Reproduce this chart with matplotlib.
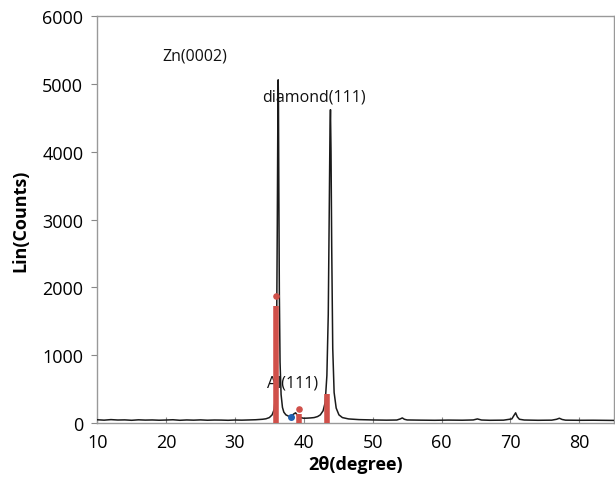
import matplotlib
matplotlib.use("Agg")
import matplotlib.pyplot as plt

plt.rcParams['font.family'] = ['Open Sans', 'DejaVu Sans']

# XRD pattern
two_theta = [10, 11, 12, 13, 14, 15, 16, 17, 18, 19, 20, 21, 22, 23, 24, 25, 26, 27, 28, 29,
             30, 31, 32, 33,
             34, 34.5, 35.0, 35.4, 35.7, 35.9, 36.05, 36.15, 36.22, 36.28, 36.32,
             36.38, 36.45, 36.55, 36.7, 36.9,
             37.1, 37.4, 37.8, 38.2, 38.5, 38.8, 39.1, 39.5,
             40.0, 40.5, 41.0, 41.5, 42.0, 42.4, 42.8, 43.1, 43.35, 43.55, 43.7, 43.8, 43.87,
             43.95, 44.05, 44.2, 44.4, 44.7, 45.1, 45.6, 46.5, 48, 50, 52, 53.5, 54.0, 54.3,
             54.6, 55, 57, 59, 61, 63, 64.6, 65.2, 65.8, 67, 69, 70.2, 70.5, 70.75, 71.0, 71.3,
             72, 74, 76, 76.7, 77.1, 77.5, 78, 80, 82, 85]
counts = [48, 42, 50, 44, 46, 40, 47, 43, 45, 41, 44, 48, 40, 45, 42, 46, 41, 44, 43, 40,
          44, 42, 45, 48,
          55, 62, 80, 120, 200, 420, 1300, 2900, 4300, 5060, 4700,
          3300, 1900, 900, 420, 230,
          160, 120, 100, 95, 130, 150, 110, 80,
          70, 72, 75, 80, 95, 120, 180, 300, 700, 1600, 3200, 4300, 4620,
          4000, 2600, 1100, 450, 220, 120, 80, 60, 50, 45, 42, 44, 60, 75,
          55, 45, 42, 40, 43, 41, 45, 60, 44, 40, 42, 60, 110, 150, 90, 55,
          44, 40, 42, 55, 70, 52, 42, 40, 41, 38]

# reference sticks and markers
stick_pos = [36.0, 39.3, 43.3]
stick_height = [1725, 140, 428]
red_marker_x = [35.9, 39.3]
red_marker_y = [1877, 205]
blue_marker_x = [38.2]
blue_marker_y = [93]

labels = ["Zn(0002)", "diamond(111)", "Al(111)"]
label_x = [24.2, 41.4, 38.3]
label_y = [5420, 4820, 600]

fig = plt.figure(figsize=(6.15, 4.81), dpi=100)
ax = fig.add_axes([0.158, 0.1185, 0.840, 0.846])

ax.plot(two_theta, counts, color='#1a1a1a', lw=1.1, zorder=3)
ax.vlines(stick_pos, 0, stick_height, color='#D0504A', lw=4.0, zorder=4)
ax.scatter(red_marker_x, red_marker_y, color='#D0504A', s=14, zorder=5)
ax.scatter(blue_marker_x, blue_marker_y, color='#2060B0', s=16, zorder=5)

for t, x, y in zip(labels, label_x, label_y):
    ax.text(x, y, t, ha='center', va='center', fontsize=11.5, color='#111111')

ax.set_xlim(10, 85)
ax.set_ylim(0, 6000)
ax.set_xticks(range(10, 90, 10))
ax.set_yticks(range(0, 7000, 1000))
ax.tick_params(axis='x', direction='in', length=4, color='#888888', labelsize=13, pad=7)
ax.tick_params(axis='y', direction='out', length=4, color='#888888', labelsize=13, pad=6)
for s in ax.spines.values():
    s.set_color('#999999')
    s.set_linewidth(1.0)

ax.set_xlabel('2θ(degree)', fontsize=13, fontweight='bold', labelpad=3)
ax.set_ylabel('Lin(Counts)', fontsize=13, fontweight='bold', labelpad=9)

fig.savefig('out.png', dpi=100)
